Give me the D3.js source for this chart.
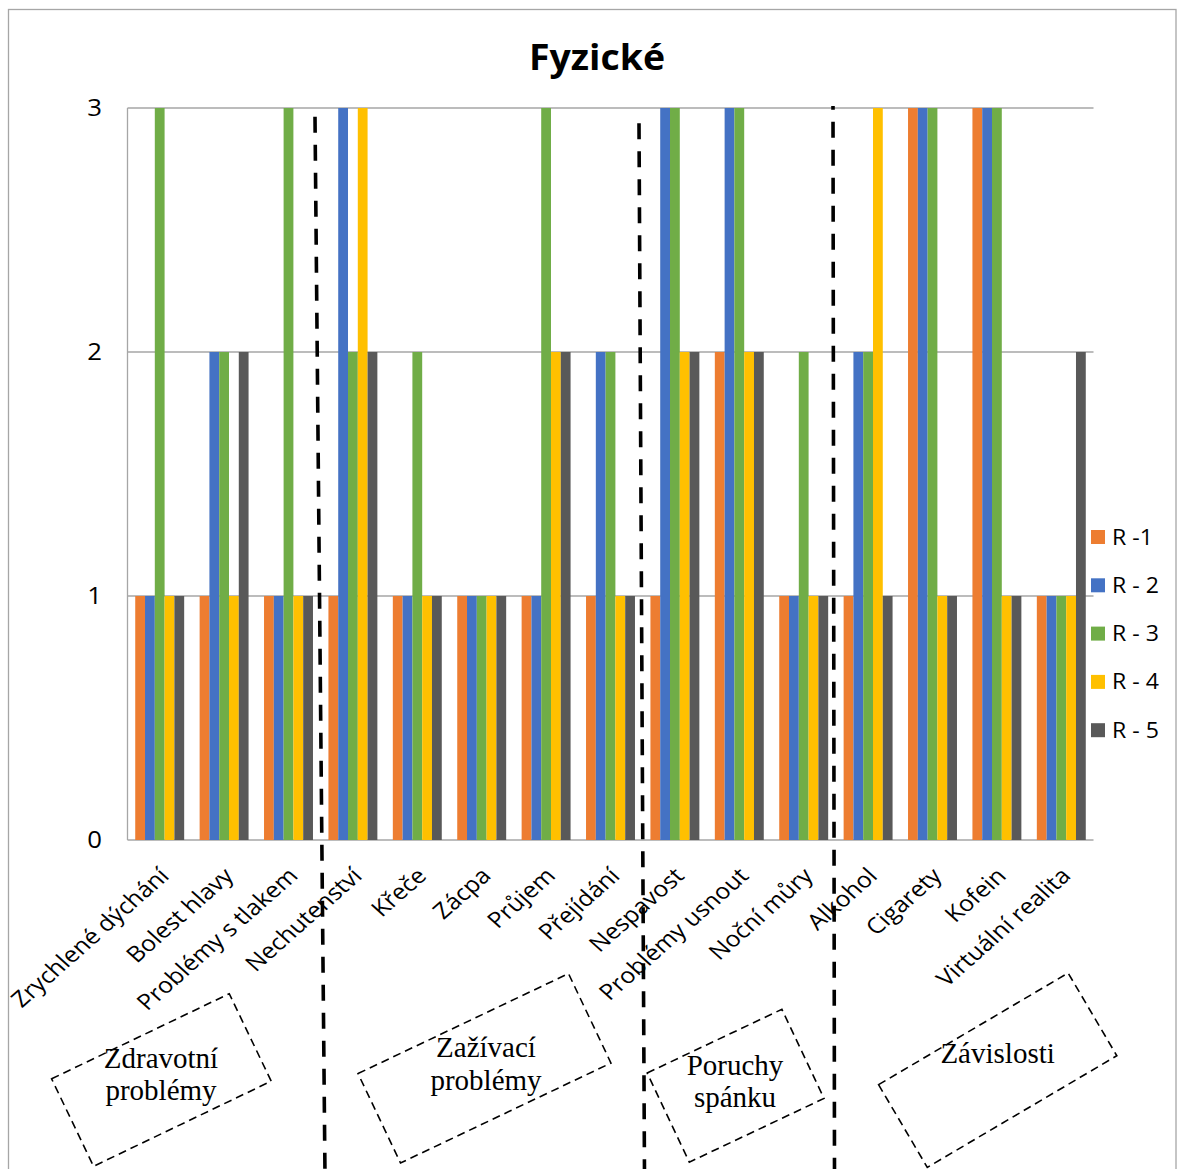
<!DOCTYPE html>
<html><head><meta charset="utf-8">
<script src="https://cdn.jsdelivr.net/npm/d3@7"></script>
<style>html,body{margin:0;padding:0;background:#fff;} svg{display:block;}</style>
</head><body><svg id="c" width="1189" height="1169"></svg>
<script>
// ---------- data ----------
const categories = ["Zrychlené dýchání","Bolest hlavy","Problémy s tlakem","Nechutenství","Křeče","Zácpa","Průjem","Přejídání","Nespavost","Problémy usnout","Noční můry","Alkohol","Cigarety","Kofein","Virtuální realita"];
const seriesNames = ["R -1","R - 2","R - 3","R - 4","R - 5"];
const r1 = [1,1,1,1,1,1,1,1,1,2,1,1,3,3,1];
const r2 = [1,2,1,3,1,1,1,2,3,3,1,2,3,3,1];
const r3 = [3,2,3,2,2,1,3,2,3,3,2,2,3,3,1];
const r4 = [1,1,1,3,1,1,2,1,2,2,1,3,1,1,1];
const r5 = [1,2,1,2,1,1,2,1,2,2,1,1,1,1,2];
const yTicks = [0,1,2,3];
const titleText = "Fyzické";
const groupLabels = [["Zdravotní","problémy"],["Zažívací","problémy"],["Poruchy","spánku"],["Závislosti"]];
const dividersAfter = [3, 8, 11];

// ---------- style / layout ----------
const colors = ["#ED7D31","#4472C4","#70AD47","#FFC000","#595959"];
const seriesValues = [r1,r2,r3,r4,r5];
const plot = {left:127.5, right:1093.5, top:108, bottom:840};
const sans = "'Open Sans', 'Noto Sans', sans-serif";
const serif = "'Liberation Serif', 'Times New Roman', serif";
const gridColor = "#a6a6a6";

const dividerStyle = [
  {topOff:-5.7, botOff:4.3, y0:116.7, phase:0},
  {topOff:-3.7, botOff:1.8, y0:123.3, phase:0},
  {topOff:-2.9, botOff:-1.4, y0:106, phase:12.3}
];
const boxStyle = [
  {cx:161.4, cy:1080, w:197, h:97, a:-25.6, tx:161, ty:[1068,1100]},
  {cx:484.5, cy:1068.3, w:233, h:99, a:-25.4, tx:486, ty:[1057,1090]},
  {cx:735.6, cy:1085.7, w:149, h:98.6, a:-25.3, tx:735, ty:[1075,1107]},
  {cx:997.7, cy:1070.2, w:220, h:96, a:-30.5, tx:997.6, ty:[1063]}
];

const svg = d3.select("#c");

// outer border
svg.append("rect").attr("x",8.5).attr("y",9.5).attr("width",1167.5).attr("height",1200)
  .attr("fill","none").attr("stroke",gridColor).attr("stroke-width",1.3);

// scales
const x0 = d3.scaleBand().domain(categories).range([plot.left, plot.right]).paddingInner(0.24).paddingOuter(0.12);
const x1 = d3.scaleBand().domain(seriesNames).range([0, x0.bandwidth()]);
const y = d3.scaleLinear().domain([0,3]).range([plot.bottom, plot.top]);

// gridlines
svg.append("g").selectAll("line").data(yTicks).join("line")
  .attr("x1",plot.left).attr("x2",plot.right)
  .attr("y1",d=>y(d)).attr("y2",d=>y(d))
  .attr("stroke",gridColor).attr("stroke-width",1.3);
// value axis line
svg.append("line").attr("x1",plot.left).attr("x2",plot.left).attr("y1",y(3)).attr("y2",y(0))
  .attr("stroke",gridColor).attr("stroke-width",1.3);

// bars
const rows = categories.map((c,i)=>({cat:c, vals:seriesNames.map((s,j)=>({s, v:seriesValues[j][i], j}))}));
svg.append("g").selectAll("g").data(rows).join("g")
  .attr("transform",d=>`translate(${x0(d.cat)},0)`)
  .selectAll("rect").data(d=>d.vals).join("rect")
  .attr("x",d=>x1(d.s)).attr("width",x1.bandwidth())
  .attr("y",d=>y(d.v)).attr("height",d=>y(0)-y(d.v))
  .attr("fill",d=>colors[d.j]);

// y tick labels
svg.append("g").selectAll("text").data(yTicks).join("text")
  .attr("transform",d=>`translate(102,${y(d)+8.3}) scale(1.12,1)`)
  .attr("text-anchor","end").attr("font-family",sans).attr("font-size",23).attr("fill","#000")
  .text(d=>d);

// category labels
svg.append("g").selectAll("text").data(categories).join("text")
  .attr("transform",d=>`translate(${x0(d)+x0.bandwidth()/2-2},866) scale(1.13,1) rotate(-45)`)
  .attr("text-anchor","end").attr("dy","0.72em")
  .attr("font-family",sans).attr("font-size",22).attr("fill","#000")
  .text(d=>d);

// title
svg.append("text").attr("transform","translate(597,70) scale(1.04,1)")
  .attr("text-anchor","middle").attr("font-family",sans).attr("font-weight","bold")
  .attr("font-size",36).attr("fill","#000").text(titleText);

// legend
const lg = svg.append("g").selectAll("g").data(seriesNames).join("g")
  .attr("transform",(d,i)=>`translate(1091,${537+i*48.3})`);
lg.append("rect").attr("x",0).attr("y",-7).attr("width",14).attr("height",14).attr("fill",(d,i)=>colors[i]);
lg.append("text").attr("transform","translate(21,7.5) scale(1.1,1)")
  .attr("font-family",sans).attr("font-size",21).attr("fill","#000").text(d=>d);

// dividers (thick dashed)
const step = x0.step();
svg.append("g").selectAll("line").data(dividersAfter).join("line")
  .attr("x1",(d,i)=>plot.left+d*step+dividerStyle[i].topOff)
  .attr("x2",(d,i)=>plot.left+d*step+dividerStyle[i].botOff)
  .attr("y1",(d,i)=>dividerStyle[i].y0).attr("y2",1175)
  .attr("stroke","#000").attr("stroke-width",3.6)
  .attr("stroke-dasharray","16 12").attr("stroke-dashoffset",(d,i)=>dividerStyle[i].phase);

// group boxes
const bx = svg.append("g").selectAll("g").data(groupLabels).join("g");
bx.append("rect")
  .attr("transform",(d,i)=>`translate(${boxStyle[i].cx},${boxStyle[i].cy}) rotate(${boxStyle[i].a})`)
  .attr("x",(d,i)=>-boxStyle[i].w/2).attr("y",(d,i)=>-boxStyle[i].h/2)
  .attr("width",(d,i)=>boxStyle[i].w).attr("height",(d,i)=>boxStyle[i].h)
  .attr("fill","none").attr("stroke","#000").attr("stroke-width",1.6).attr("stroke-dasharray","8 5");
bx.each(function(lines,i){
  const g = d3.select(this);
  lines.forEach((t,k)=>{
    g.append("text").attr("x",boxStyle[i].tx).attr("y",boxStyle[i].ty[k])
      .attr("text-anchor","middle").attr("font-family",serif).attr("font-size",29).attr("fill","#000").text(t);
  });
});
</script></body></html>
